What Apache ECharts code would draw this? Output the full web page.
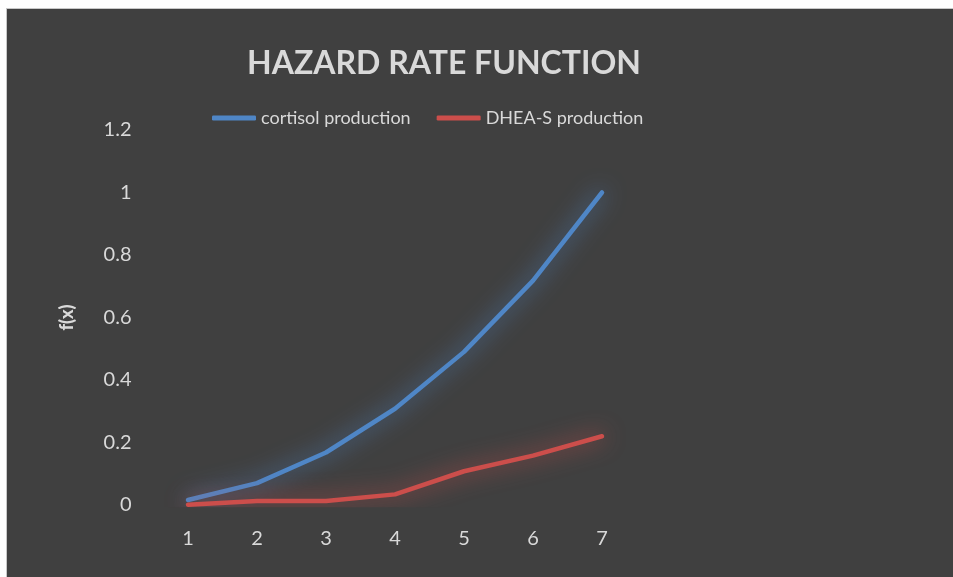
<!DOCTYPE html>
<html>
<head>
<meta charset="utf-8">
<script src="https://cdn.jsdelivr.net/npm/echarts@6/dist/echarts.min.js"></script>
<style>
html,body{margin:0;padding:0;background:#ffffff;width:953px;height:577px;overflow:hidden;}
#frame{position:absolute;left:6px;top:8px;width:947px;height:569px;background:#404040;border-left:1px solid #c8c8c8;border-top:1px solid #c8c8c8;box-sizing:border-box;}
#chart{position:absolute;left:0;top:0;width:953px;height:577px;}
</style>
</head>
<body>
<div id="frame"></div>
<div id="chart"></div>
<script>
const categories = ['1','2','3','4','5','6','7'];
const cortisol = [0.016, 0.07, 0.168, 0.308, 0.49, 0.718, 1.0];
const dhea = [0.001, 0.013, 0.013, 0.034, 0.108, 0.158, 0.22];
const seriesNames = ['cortisol production', 'DHEA-S production'];
const titleText = 'HAZARD RATE FUNCTION';
const yAxisName = 'f(x)';

const chart = echarts.init(document.getElementById('chart'), null, {renderer: 'canvas'});
const font = 'Lato, "Open Sans", sans-serif';
chart.setOption({
  backgroundColor: 'transparent',
  animation: false,
  title: {
    text: titleText,
    left: 439,
    top: 43,
    textAlign: 'center',
    textStyle: {color: '#d9d9d9', fontSize: 32, fontWeight: 'bold', fontFamily: font}
  },
  legend: {
    left: 212,
    top: 109,
    padding: 0,
    icon: 'roundRect',
    itemWidth: 44,
    itemHeight: 5,
    itemGap: 26,
    textStyle: {color: '#d9d9d9', fontSize: 18, fontFamily: font},
    data: seriesNames
  },
  grid: {left: 153.5, right: 316.5, top: 130, bottom: 72, containLabel: false},
  xAxis: {
    type: 'category',
    data: categories,
    boundaryGap: true,
    axisLine: {show: false},
    axisTick: {show: false},
    axisLabel: {color: '#d9d9d9', fontSize: 20, fontFamily: font, margin: 24}
  },
  yAxis: {
    type: 'value',
    min: 0, max: 1.2, interval: 0.2,
    name: yAxisName,
    nameLocation: 'middle',
    nameGap: 77,
    nameTextStyle: {color: '#d9d9d9', fontSize: 18, fontWeight: 900, fontFamily: font},
    splitLine: {show: false},
    axisLine: {show: false},
    axisTick: {show: false},
    axisLabel: {color: '#d9d9d9', fontSize: 20, fontFamily: font, margin: 22,
      formatter: v => String(Math.round(v*10)/10)}
  },
  series: [
    {
      name: seriesNames[0], type: 'line', data: cortisol, symbol: 'none', showSymbol: false,
      color: '#4f86c6',
      lineStyle: {width: 4.5, color: '#4f86c6', cap: 'round', join: 'round',
        shadowBlur: 22, shadowColor: 'rgba(79,134,198,1)'}
    },
    {
      name: seriesNames[1], type: 'line', data: dhea, symbol: 'none', showSymbol: false,
      color: '#cc4e4b',
      lineStyle: {width: 4.5, color: '#cc4e4b', cap: 'round', join: 'round',
        shadowBlur: 22, shadowColor: 'rgba(204,78,75,1)'}
    }
  ]
});
</script>
</body>
</html>
